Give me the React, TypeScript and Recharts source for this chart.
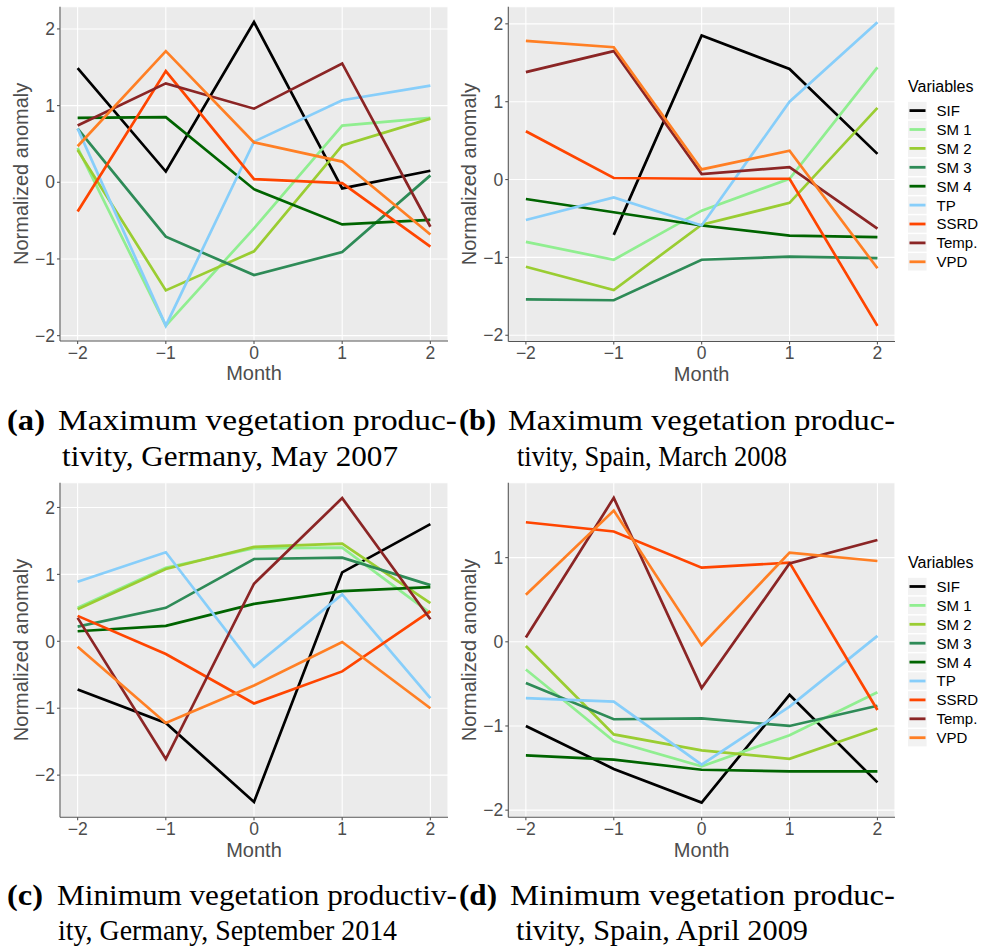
import React from 'react';
import { LineChart, Line, XAxis, YAxis, CartesianGrid } from 'recharts';

// ---------- data ----------
const months = [-2, -1, 0, 1, 2];
const seriesKeys = ['SIF', 'SM1', 'SM2', 'SM3', 'SM4', 'TP', 'SSRD', 'Temp', 'VPD'];
const seriesLabels = ['SIF', 'SM 1', 'SM 2', 'SM 3', 'SM 4', 'TP', 'SSRD', 'Temp.', 'VPD'];
const seriesColors = ['#000000', '#90EE90', '#9ACD32', '#2E8B57', '#006400', '#87CEFA', '#FF4500', '#8B2525', '#FF7F24'];
const monthTicks = [-2, -1, 0, 1, 2];

// (a) Germany, May 2007
const aSIF = [1.49, 0.14, 2.09, -0.08, 0.15];
const aSM1 = [0.45, -1.87, -0.6, 0.74, 0.84];
const aSM2 = [0.42, -1.41, -0.9, 0.48, 0.83];
const aSM3 = [0.7, -0.71, -1.21, -0.91, 0.09];
const aSM4 = [0.84, 0.85, -0.09, -0.55, -0.49];
const aTP = [0.7, -1.87, 0.53, 1.07, 1.26];
const aSSRD = [-0.38, 1.45, 0.04, -0.01, -0.84];
const aTemp = [0.74, 1.29, 0.96, 1.55, -0.58];
const aVPD = [0.47, 1.71, 0.52, 0.27, -0.68];
const aYTicks = [-2, -1, 0, 1, 2];

// (b) Spain, March 2008
const bSIF = [null, -0.71, 1.85, 1.42, 0.33];
const bSM1 = [-0.8, -1.03, -0.4, 0.01, 1.44];
const bSM2 = [-1.12, -1.42, -0.58, -0.3, 0.92];
const bSM3 = [-1.54, -1.55, -1.03, -0.99, -1.01];
const bSM4 = [-0.25, -0.42, -0.59, -0.72, -0.74];
const bTP = [-0.52, -0.23, -0.59, 1.0, 2.02];
const bSSRD = [0.62, 0.02, 0.01, 0.01, -1.88];
const bTemp = [1.38, 1.65, 0.07, 0.16, -0.63];
const bVPD = [1.78, 1.7, 0.13, 0.37, -1.14];
const bYTicks = [-2, -1, 0, 1, 2];

// (c) Germany, September 2014
const cSIF = [-0.72, -1.22, -2.4, 1.03, 1.75];
const cSM1 = [0.5, 1.1, 1.39, 1.4, 0.42];
const cSM2 = [0.48, 1.08, 1.41, 1.46, 0.57];
const cSM3 = [0.22, 0.5, 1.23, 1.25, 0.84];
const cSM4 = [0.15, 0.23, 0.56, 0.75, 0.81];
const cTP = [0.89, 1.33, -0.38, 0.7, -0.85];
const cSSRD = [0.38, -0.19, -0.93, -0.45, 0.45];
const cTemp = [0.35, -1.76, 0.86, 2.14, 0.33];
const cVPD = [-0.08, -1.22, -0.66, -0.01, -1.0];
const cYTicks = [-2, -1, 0, 1, 2];

// (d) Spain, April 2009
const dSIF = [-1.0, -1.51, -1.91, -0.63, -1.67];
const dSM1 = [-0.33, -1.18, -1.48, -1.11, -0.6];
const dSM2 = [-0.05, -1.1, -1.29, -1.39, -1.03];
const dSM3 = [-0.49, -0.92, -0.91, -1.0, -0.76];
const dSM4 = [-1.35, -1.4, -1.52, -1.54, -1.54];
const dTP = [-0.67, -0.71, -1.46, -0.77, 0.07];
const dSSRD = [1.42, 1.31, 0.88, 0.94, -0.81];
const dTemp = [0.05, 1.71, -0.55, 0.93, 1.21];
const dVPD = [0.56, 1.56, -0.04, 1.06, 0.96];
const dYTicks = [-2, -1, 0, 1];

const buildRows = (cols: (number | null)[][]) =>
  months.map((m, i) => {
    const row: Record<string, number | null> = { m };
    seriesKeys.forEach((k, j) => {
      row[k] = cols[j][i];
    });
    return row;
  });

const dataA = buildRows([aSIF, aSM1, aSM2, aSM3, aSM4, aTP, aSSRD, aTemp, aVPD]);
const dataB = buildRows([bSIF, bSM1, bSM2, bSM3, bSM4, bTP, bSSRD, bTemp, bVPD]);
const dataC = buildRows([cSIF, cSM1, cSM2, cSM3, cSM4, cTP, cSSRD, cTemp, cVPD]);
const dataD = buildRows([dSIF, dSM1, dSM2, dSM3, dSM4, dTP, dSSRD, dTemp, dVPD]);

// ---------- styling ----------
const SANS = '"Liberation Sans", Arial, Helvetica, sans-serif';
const SERIF = '"Liberation Serif", "Times New Roman", serif';
const AXIS_GREY = '#4D4D4D';
const fmt = (v: number) => (v < 0 ? `\u2212${Math.abs(v)}` : `${v}`);

type PanelProps = {
  data: Record<string, number | null>[];
  yDomain: [number, number];
  yTicks: number[];
  chartLeft: number;
  chartTop: number;
  chartW: number;
  chartH: number;
  plotL: number;
  plotR: number;
  plotT: number;
  plotB: number;
};

const Panel = (p: PanelProps) => {
  const yAxisW = p.plotL - p.chartLeft;
  const mRight = p.chartLeft + p.chartW - p.plotR;
  const mTop = p.plotT - p.chartTop;
  const xAxisH = p.chartTop + p.chartH - p.plotB;
  const yLabel = (props: any) => {
    const vb = props.viewBox;
    const cx = vb.x + 20.8;
    const cy = vb.y + vb.height / 2;
    return (
      <text x={cx} y={cy} transform={`rotate(-90, ${cx}, ${cy})`} textAnchor="middle" dominantBaseline="central"
        fontFamily={SANS} fontSize={20} fill={AXIS_GREY}>
        Normalized anomaly
      </text>
    );
  };
  const xLabel = (props: any) => {
    const vb = props.viewBox;
    return (
      <text x={vb.x + vb.width / 2} y={vb.y + 39.3} textAnchor="middle" fontFamily={SANS} fontSize={20} fill={AXIS_GREY}>
        Month
      </text>
    );
  };
  return (
    <div style={{ position: 'absolute', left: p.chartLeft, top: p.chartTop, width: p.chartW, height: p.chartH }}>
      <LineChart width={p.chartW} height={p.chartH} data={p.data}
        margin={{ top: mTop, right: mRight, left: 0, bottom: 0 }}>
        <CartesianGrid stroke="#FFFFFF" strokeWidth={1.1} fill="#EBEBEB" />
        <XAxis dataKey="m" type="number" domain={[-2.2, 2.2]} ticks={monthTicks} allowDataOverflow
          height={xAxisH} tickFormatter={fmt} tickSize={3} tickMargin={2.5}
          tick={{ fontFamily: SANS, fontSize: 17.5, fill: AXIS_GREY }}
          axisLine={{ stroke: '#555555', strokeWidth: 1.1 }} tickLine={{ stroke: '#555555', strokeWidth: 1.1 }}
          label={{ content: xLabel }} />
        <YAxis type="number" domain={p.yDomain} ticks={p.yTicks} allowDataOverflow width={yAxisW}
          tickFormatter={fmt} tickSize={3} tickMargin={2}
          tick={{ fontFamily: SANS, fontSize: 17.5, fill: AXIS_GREY }}
          axisLine={{ stroke: '#555555', strokeWidth: 1.1 }} tickLine={{ stroke: '#555555', strokeWidth: 1.1 }}
          label={{ content: yLabel }} />
        {seriesKeys.map((k, i) => (
          <Line key={k} dataKey={k} stroke={seriesColors[i]} strokeWidth={2.7} dot={false}
            activeDot={false} isAnimationActive={false} connectNulls={false} type="linear" />
        ))}
      </LineChart>
    </div>
  );
};

const LegendBox = ({ centerY }: { centerY: number }) => {
  const x0 = 908;
  const step = 18.9;
  const first = centerY - 63.5;
  return (
    <svg style={{ position: 'absolute', left: 0, top: 0 }} width={986} height={952} pointerEvents="none">
      <text x={x0} y={centerY - 88 + 5.8} fontFamily={SANS} fontSize={16} fill="#000">Variables</text>
      {seriesLabels.map((lab, i) => {
        const cy = first + i * step;
        return (
          <g key={lab}>
            <rect x={x0} y={cy - 8.7} width={18.6} height={17.4} fill="#F2F2F2" />
            <line x1={x0 + 1.5} x2={x0 + 17.5} y1={cy} y2={cy} stroke={seriesColors[i]} strokeWidth={2.8} />
            <text x={936.5} y={cy + 5.4} fontFamily={SANS} fontSize={15} fill="#000">{lab}</text>
          </g>
        );
      })}
    </svg>
  );
};

type Cap = { tag: string; tagX: number; tagLen: number; l1: string; l1X: number; l1Len: number; l2: string; l2X: number; l2Len: number; y1: number; y2: number };
const captions: Cap[] = [
  { tag: '(a)', tagX: 7, tagLen: 38, l1: 'Maximum vegetation produc-', l1X: 58, l1Len: 399, l2: 'tivity, Germany, May 2007', l2X: 62, l2Len: 336, y1: 430, y2: 465.5 },
  { tag: '(b)', tagX: 459, tagLen: 37, l1: 'Maximum vegetation produc-', l1X: 508, l1Len: 387, l2: 'tivity, Spain, March 2008', l2X: 517, l2Len: 270, y1: 430, y2: 465.5 },
  { tag: '(c)', tagX: 7, tagLen: 36, l1: 'Minimum vegetation productiv-', l1X: 57, l1Len: 400, l2: 'ity, Germany, September 2014', l2X: 58, l2Len: 339, y1: 904.5, y2: 940 },
  { tag: '(d)', tagX: 459, tagLen: 38, l1: 'Minimum vegetation produc-', l1X: 510, l1Len: 385, l2: 'tivity, Spain, April 2009', l2X: 516, l2Len: 292, y1: 904.5, y2: 940 },
];

const Captions = () => (
  <svg style={{ position: 'absolute', left: 0, top: 0 }} width={986} height={952} pointerEvents="none">
    {captions.map((c) => (
      <g key={c.tag} fontFamily={SERIF} fontSize={30} fill="#000">
        <text x={c.tagX} y={c.y1} fontWeight="bold" textLength={c.tagLen} lengthAdjust="spacingAndGlyphs">{c.tag}</text>
        <text x={c.l1X} y={c.y1} textLength={c.l1Len} lengthAdjust="spacingAndGlyphs">{c.l1}</text>
        <text x={c.l2X} y={c.y2} textLength={c.l2Len} lengthAdjust="spacingAndGlyphs">{c.l2}</text>
      </g>
    ))}
  </svg>
);

export default function App() {
  return (
    <div style={{ position: 'absolute', left: 0, top: 0, width: 986, height: 952, background: '#FFFFFF', overflow: 'hidden' }}>
      <Panel data={dataA} yDomain={[-2.07, 2.29]} yTicks={aYTicks} chartLeft={0} chartTop={0} chartW={455} chartH={392}
        plotL={60} plotR={448} plotT={6.7} plotB={341} />
      <Panel data={dataB} yDomain={[-2.08, 2.22]} yTicks={bYTicks} chartLeft={448} chartTop={0} chartW={455} chartH={392}
        plotL={508.3} plotR={895} plotT={6.7} plotB={341.5} />
      <Panel data={dataC} yDomain={[-2.63, 2.37]} yTicks={cYTicks} chartLeft={0} chartTop={470} chartW={455} chartH={400}
        plotL={60} plotR={448} plotT={482.7} plotB={817.3} />
      <Panel data={dataD} yDomain={[-2.085, 1.89]} yTicks={dYTicks} chartLeft={448} chartTop={470} chartW={455} chartH={400}
        plotL={508.3} plotR={895} plotT={482.7} plotB={817.3} />
      <LegendBox centerY={174.1} />
      <LegendBox centerY={650} />
      <Captions />
    </div>
  );
}
